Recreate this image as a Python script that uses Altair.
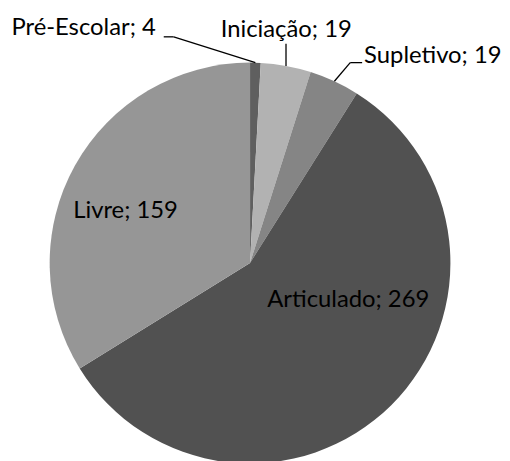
import altair as alt
import pandas as pd
import numpy as np

# ---- data ----
categories = ["Pré-Escolar", "Iniciação", "Supletivo", "Articulado", "Livre"]
values = [4, 19, 19, 269, 159]
colors = ["#5f5f5f", "#b2b2b2", "#858585", "#515151", "#969696"]

# ---- layout (plot-area pixels) ----
W, H = 488, 510
R = 202
cx, cy = W / 2, H / 2
FONT = "Lato"
FSIZE = 24

# label anchor (x, baseline y, align)
label_pos = {
    "Pré-Escolar": (149, 25, "right"),
    "Iniciação": (280.5, 27, "center"),
    "Supletivo": (359, 53, "left"),
    "Livre": (118.5, 210, "center"),
    "Articulado": (343, 299, "center"),
}
# leader elbows: points after the slice edge point (None x = same as edge)
leaders = {
    "Pré-Escolar": [(167, 27), (157, 27)],
    "Iniciação": [(None, 34)],
    "Supletivo": [(345, 53), (357, 53)],
}

df = pd.DataFrame({"cat": categories, "val": values, "order": range(len(values)), "color": colors})
df["label"] = df["cat"] + "; " + df["val"].astype(str)

total = sum(values)
mid = (np.cumsum(values) - np.array(values) / 2) / total * 2 * np.pi
edge = {c: (cx + R * np.sin(a), cy - R * np.cos(a)) for c, a in zip(categories, mid)}

segs = []
for c, pts in leaders.items():
    prev = edge[c]
    for px, py in pts:
        px = prev[0] if px is None else px
        segs.append({"cat": c, "x": prev[0], "y": prev[1], "x2": px, "y2": py})
        prev = (px, py)
seg_df = pd.DataFrame(segs)

lab_df = pd.DataFrame([
    {"label": df.loc[df.cat == c, "label"].iloc[0], "x": p[0], "y": p[1], "align": p[2]}
    for c, p in label_pos.items()
])

pie = alt.Chart(df).mark_arc(outerRadius=R, strokeWidth=0).encode(
    theta=alt.Theta("val:Q", stack=True),
    order=alt.Order("order:Q"),
    color=alt.Color("color:N", scale=None),
)

rules = alt.Chart(seg_df).mark_rule(color="black", strokeWidth=1.3).encode(
    x=alt.X("x:Q", scale=None),
    y=alt.Y("y:Q", scale=None),
    x2="x2:Q",
    y2="y2:Q",
)

texts = []
for al in ["left", "center", "right"]:
    texts.append(
        alt.Chart(lab_df).transform_filter(alt.datum.align == al).mark_text(
            align=al, baseline="alphabetic", font=FONT, fontSize=FSIZE, color="black"
        ).encode(
            x=alt.X("x:Q", scale=None),
            y=alt.Y("y:Q", scale=None),
            text="label:N",
        )
    )

chart = alt.layer(pie, rules, *texts).properties(
    width=W, height=H, padding=0
).configure_view(stroke=None)

chart.save("out.html", embed_options={"renderer": "svg", "actions": False})
